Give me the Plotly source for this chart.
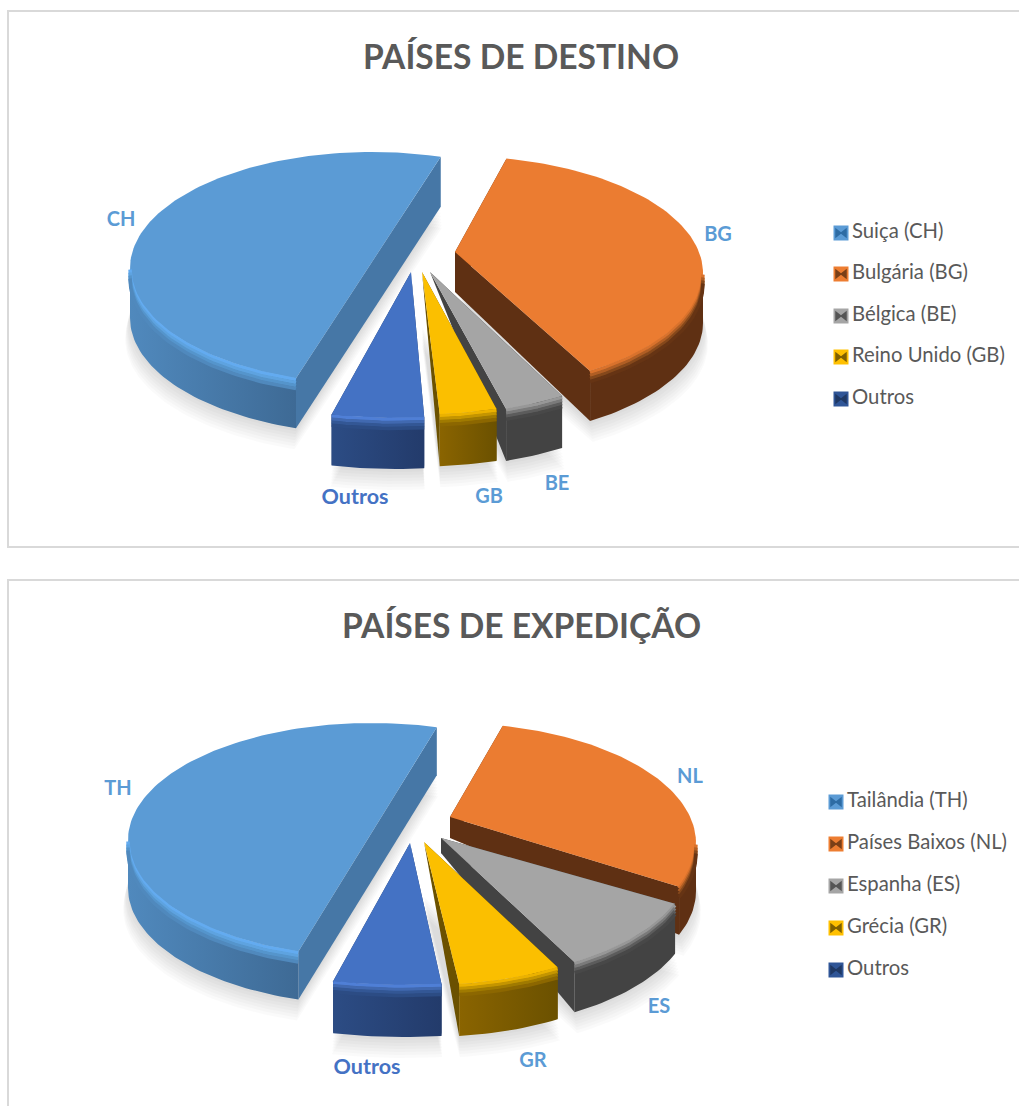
import math
import plotly.graph_objects as go

# ---------- data ----------
title_dest = "PAÍSES DE DESTINO"
codes_dest = ["BG", "BE", "GB", "Outros", "CH"]
shares_dest = [37.5, 4.0, 3.5, 5.5, 49.5]
legend_dest = ["Suiça (CH)", "Bulgária (BG)", "Bélgica (BE)", "Reino Unido (GB)", "Outros"]

title_exp = "PAÍSES DE EXPEDIÇÃO"
codes_exp = ["NL", "ES", "GR", "Outros", "TH"]
shares_exp = [27.5, 10.3, 6.8, 6.0, 49.4]
legend_exp = ["Tailândia (TH)", "Países Baixos (NL)", "Espanha (ES)", "Grécia (GR)", "Outros"]

# ---------- styles, per colour role ----------
ORANGE = dict(face="#EB7C31", wall=("#5F3013", "#5F3013"), cut="#5F3013",
              bevel=["#D9722C", "#B05E24", "#85481B", "#663414"], sw="#ED7D31", dark="#7A3F17")
GREY = dict(face="#A5A5A5", wall=("#434343", "#434343"), cut="#434343",
            bevel=["#979797", "#7A7A7A", "#5C5C5C", "#484848"], sw="#A5A5A5", dark="#555555")
YELLOW = dict(face="#FBBF00", wall=("#8A6400", "#6B5100"), cut="#6B5100",
              bevel=["#EBB200", "#C49500", "#A07A00", "#8C6700"], sw="#FFC000", dark="#806000")
NAVY = dict(face="#4472C4", wall=("#2C4C84", "#233B6B"), cut="#233B6B",
            bevel=["#4F7FD6", "#4169B0", "#335795", "#2C4C84"], sw="#2F5597", dark="#1F3864")
BLUE = dict(face="#5B9BD5", wall=("#5089BD", "#3E6A95"), cut="#4677A6",
            bevel=["#63ABF0", "#5EA3E0", "#5595CC", "#5089BD"], sw="#5B9BD5", dark="#2E6CA4")

# layout of each slice: rim centre, radii, apex (None = on the cut line), depth at rim / apex, angle tweak
LAYOUT_DEST = dict(
    start=12.0,
    slices=[
        dict(st=ORANGE, cx=455, cy=273, rx=248, ry=117, ax=455, ay=252, d=50, da=40, tw=0),
        dict(st=GREY, cx=427, cy=298, rx=248, ry=117, ax=430, ay=272, d=52, da=0, tw=0),
        dict(st=YELLOW, cx=412, cy=298, rx=265, ry=117, ax=422, ay=272, d=52, da=0, tw=0),
        dict(st=NAVY, cx=396, cy=301, rx=270, ry=117, ax=411, ay=272, d=51, da=0, tw=0),
        dict(st=BLUE, cx=372, cy=268, rx=242, ry=116, ax=None, ay=None, d=50, da=50, tw=4.5),
    ],
    title_y=56,
    labels=[(718, 236), (557, 485), (489, 498), (355, 499), (121, 221)],
    leg_x=841, leg_y=[233, 274, 316, 357, 399],
)
LAYOUT_EXP = dict(
    start=12.4,
    slices=[
        dict(st=ORANGE, cx=450, cy=843, rx=246, ry=120, ax=450, ay=817, d=48, da=21, tw=0),
        dict(st=GREY, cx=446, cy=860, rx=246, ry=120, ax=441, ay=838, d=50, da=15, tw=0),
        dict(st=YELLOW, cx=429, cy=865, rx=246, ry=120, ax=424, ay=842, d=52, da=0, tw=0),
        dict(st=NAVY, cx=406, cy=865, rx=290, ry=120, ax=410, ay=843, d=52, da=0, tw=0),
        dict(st=BLUE, cx=372, cy=840, rx=244, ry=117, ax=None, ay=None, d=48, da=48, tw=3.0),
    ],
    title_y=625,
    labels=[(690, 778), (659, 1008), (533, 1062), (367, 1069), (118, 790)],
    leg_x=836, leg_y=[802, 844, 886, 928, 970],
)

fig = go.Figure()


def poly(xs, ys, fill=None, grad=None):
    kw = dict(x=xs, y=ys, mode="lines", fill="toself", line=dict(width=0),
              hoverinfo="skip", showlegend=False)
    if grad:
        kw["fillgradient"] = dict(type="horizontal",
                                  colorscale=[[0, grad[0]], [1, grad[1]]])
        kw["fillcolor"] = grad[0]
    else:
        kw["fillcolor"] = fill
    fig.add_trace(go.Scatter(**kw))


def arc(s, a, b, dy=0):
    n = max(2, int(abs(b - a) / 1.5) + 1)
    ts = [a + (b - a) * i / (n - 1) for i in range(n)]
    xs = [s["cx"] + s["rx"] * math.sin(math.radians(t)) for t in ts]
    ys = [s["cy"] - s["ry"] * math.cos(math.radians(t)) + dy for t in ts]
    return xs, ys


def clip(a, b, lo, hi):
    a2, b2 = max(a, lo), min(b, hi)
    return (a2, b2) if b2 > a2 else None


def draw_pie(shares, codes, names, L, title):
    total = sum(shares)
    t = L["start"]
    spans = []
    for v, s in zip(shares, L["slices"]):
        sweep = 360 * v / total
        spans.append((t + s["tw"], t + sweep + s["tw"]))
        t += sweep
        if s["ax"] is None:  # apex of a half pie lies on the straight cut
            xs, ys = arc(s, spans[-1][0], spans[-1][1])
            s["ax"], s["ay"] = (xs[0] + xs[-1]) / 2, (ys[0] + ys[-1]) / 2

    # soft shadow first
    for (a, b), s in zip(spans, L["slices"]):
        xs, ys = arc(s, a, b)
        for off, grow in ((3, 1.0), (6, 1.005), (9, 1.01), (12, 1.012), (15, 1.015), (18, 1.018), (21, 1.02)):
            px = [s["ax"]] + [s["cx"] + (x - s["cx"]) * grow for x in xs]
            py = [s["ay"] + s["d"] + off] + [y + s["d"] + off for y in ys]
            poly(px, py, fill="rgba(0,0,0,0.018)")

    for (a, b), s in zip(spans, L["slices"]):
        st = s["st"]
        rx, ry = arc(s, a, b)
        # radial walls
        if s["da"] == s["d"]:  # straight cut of a half pie: one single band
            poly([rx[0], rx[-1], rx[-1], rx[0]],
                 [ry[0], ry[-1], ry[-1] + s["d"], ry[0] + s["d"]], fill=st["cut"])
        else:
            for ex, ey in ((rx[0], ry[0]), (rx[-1], ry[-1])):
                poly([s["ax"], ex, ex, s["ax"]],
                     [s["ay"], ey, ey + s["d"], s["ay"] + s["da"]], fill=st["cut"])
        # outer wall
        c = clip(a, b, 90, 270)
        if c:
            ux, uy = arc(s, c[0], c[1])
            lx, ly = arc(s, c[0], c[1], s["d"])
            poly(ux + lx[::-1], uy + ly[::-1], grad=st["wall"])
        # top face
        poly([s["ax"]] + rx, [s["ay"]] + ry, fill=st["face"])
        # bevel along the rim
        c = clip(a, b, 90, 270)
        if c:
            for i, col in enumerate(st["bevel"]):
                bx, by = arc(s, c[0], c[1], 1.5 + i * 3.0)
                fig.add_trace(go.Scatter(x=bx, y=by, mode="lines",
                                         line=dict(color=col, width=3.5),
                                         hoverinfo="skip", showlegend=False))

    # data labels
    lab_col = ["#4472C4" if c == "Outros" else "#5B9BD5" for c in codes]
    lab_size = [21.5 if c == "Outros" else 20 for c in codes]
    fig.add_trace(go.Scatter(
        x=[p[0] for p in L["labels"]], y=[p[1] for p in L["labels"]],
        mode="text", text=codes, hoverinfo="skip", showlegend=False,
        textfont=dict(family="Lato", size=lab_size, color=lab_col, weight="bold")))

    # legend, first entry is the big slice
    order = [L["slices"][4], L["slices"][0], L["slices"][1], L["slices"][2], L["slices"][3]]
    lx, ly = L["leg_x"], L["leg_y"]
    fig.add_trace(go.Scatter(x=[lx] * 5, y=ly, mode="markers", hoverinfo="skip", showlegend=False,
                             marker=dict(symbol="square", size=15, line=dict(width=0),
                                         color=[o["st"]["sw"] for o in order])))
    for sym, off in (("triangle-right", -3.5), ("triangle-left", 3.5)):
        fig.add_trace(go.Scatter(x=[lx + off] * 5, y=ly, mode="markers", hoverinfo="skip", showlegend=False,
                                 marker=dict(symbol=sym, size=9, line=dict(width=0),
                                             color=[o["st"]["dark"] for o in order])))
    fig.add_trace(go.Scatter(x=[lx + 11] * 5, y=ly, mode="text", text=names, hoverinfo="skip",
                             textposition="middle right", showlegend=False,
                             textfont=dict(family="Lato", size=20.3, color="#595959")))

    fig.add_annotation(x=521, y=L["title_y"], xref="x", yref="y", text="<b>%s</b>" % title,
                       showarrow=False, font=dict(family="Lato", size=33.6, color="#595959"))


draw_pie(shares_dest, codes_dest, legend_dest, LAYOUT_DEST, title_dest)
draw_pie(shares_exp, codes_exp, legend_exp, LAYOUT_EXP, title_exp)

card = dict(type="rect", xref="x", yref="y", line=dict(color="#D9D9D9", width=2),
            fillcolor="white", layer="below")
fig.update_layout(
    width=1019, height=1106, margin=dict(l=0, r=0, t=0, b=0),
    paper_bgcolor="white", plot_bgcolor="white", showlegend=False,
    xaxis=dict(range=[0, 1019], visible=False, fixedrange=True),
    yaxis=dict(range=[1106, 0], visible=False, fixedrange=True),
    shapes=[dict(card, x0=8, x1=1040, y0=11, y1=547),
            dict(card, x0=8, x1=1040, y0=580, y1=1130)],
)
fig.write_html("out.html", config=dict(displayModeBar=False),
               post_script="document.body.style.margin='0';")
